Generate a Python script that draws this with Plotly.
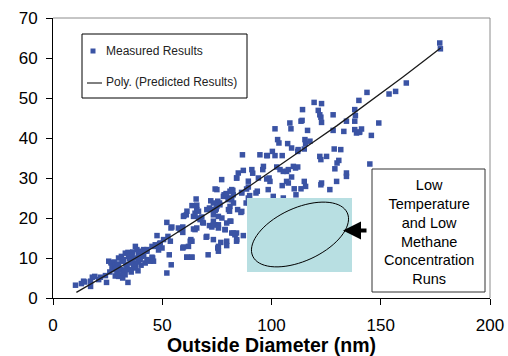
import numpy as np
import plotly.graph_objects as go

# Measured results (outside diameter nm, value)
meas_x = [10.3,13,14,14.5,17.2,17.2,18,19.1,20.9,21.7,24,24.5,
          25.5,26.5,27,27,28,28.5,28.5,28.5,29.3,29.5,30,30,30,30.8,31,31.3,31.6,31.9,32.3,32.3,33.1,33.4,33.9,34.3,34.3,34.6,34.6,35.4,35.4,36.2,36.2,36.9,37.7,37.7,38.4,38.4,38.9,39.2,39.9,39.9,40.7,41.5,41.5,42.2,42.2,43,43,43,44.5,45.3,45.3,45.6,46,46.8,47.6,47.6,48.3,48.8,49.1,49.9,50.6,
          32.8,35,36.5,37,39,40.3,33,35.8,29,26,
          52.1,52.6,53.7,54.4,54.1,52.1,53.2,54,57.4,58.2,59.4,59,59.4,60,61,61.2,63.5,59.4,59.7,62,62.8,63.1,63.6,59.7,61.3,63.6,64.3,65,65.8,65.8,66.6,64.3,65,65.8,66.6,67.3,68.1,68.5,68.8,65.5,70.1,70.4,71,
          70.4,71.6,72.2,72.7,73.4,74.2,74.7,75.4,76.2,73.4,74.2,75,75.7,76.4,74.2,75,73.4,74.2,75.7,75.7,75.7,75.4,76.8,77.2,77.3,78,78.3,79.2,79.5,80.3,81,81.8,82.3,82.5,81.8,82.6,80.2,81,80.3,80.8,79.5,78.7,81,81.4,82.5,83.3,84,84,79.5,79.5,84.1,71.6,72.7,73.4,73.4,75.7,78.8,81.8,83.3,61.3,63.6,
          84,84.8,84.1,86.3,86.4,88.6,89.4,89.4,89.8,84.5,86,86.4,87.1,88.4,89.4,90,86.7,87.1,91,91.4,92.9,93.5,94,94.7,96,96.3,97.8,98.1,98.5,98.9,99.3,97.8,100.4,100.8,101.6,101.6,102.4,102.8,103.4,103.9,104.9,104.9,105.4,105.4,106.9,106.9,107.4,107.7,107.7,108.4,108.9,109.2,109.2,110,110.4,111,111.2,112,112,112.2,113.5,113.5,114,114.2,115,115,115.3,115.6,115.6,116.5,117.6,119.5,121.4,122.1,122.6,122.9,122.9,122.1,122.6,122.6,122.9,125.2,126.7,128.2,128.2,128.7,129,129.8,130.8,131.7,133.1,134.3,134.3,134.3,138.1,138.4,138.1,138.1,138.9,140.1,141.2,140,140.4,143.7,145.7,145,149.1,153.8,156.8,161.7,177,177.3,130]
meas_y = [3.2,3.6,4.2,4.0,4.2,2.9,5.2,5.4,4.6,5.2,5.6,3.9,
          9.2,8.8,7.5,8.7,9,5.5,8.1,7.1,6.2,8.5,10,7.9,5.4,7.1,5.8,10.4,9.2,5,9.6,6.2,11.2,8.3,7.5,11.4,3.9,7.1,10.4,11.1,8.75,9.6,10.8,7.5,7.9,12.9,12.1,10,6.8,11.2,11.7,9.6,10.4,10.8,12.1,11.7,8.75,12.1,9.6,11.7,9.2,12.9,10.2,10,9.2,13.3,15.6,12.9,12,13.6,13.75,12.5,14.6,
          7.0,9.8,11.5,8.6,9.0,8.2,5.8,6.5,7.4,6.5,
          18.9,15.4,14.2,17.75,8.3,6.25,10.8,17.5,17.5,17.1,17.75,17.1,16.4,20.6,20.8,10.2,10.2,12.5,12.75,12.9,14.2,14.6,14.2,20.4,21.7,23.1,20.4,21.2,22.1,23.2,21.7,17.25,17.1,17.5,20,19.6,20.25,18.9,18.75,24.75,15.2,15.4,10.8,
          22.1,22.5,24.3,22.1,23.75,21.9,22.25,24.2,23.75,20.8,22.1,22.9,20.4,23.3,27.25,27.1,14.6,18.3,18.3,12.9,11.7,12.5,13.9,29.6,20,25.4,25.8,26.1,25.8,25,26.7,27.1,26.9,25.8,24.6,23.75,24.6,22.9,22.1,21.7,18.75,17.1,19.2,19.2,16.25,15.8,16.25,14.2,14.2,13.1,14.6,18.1,17.75,18.3,19.2,17.5,17.1,16.25,16,10.2,10.2,
          30,31.25,30,26.4,26.25,27.25,27.75,29.2,23.75,22.1,21.4,21.65,15.6,23.75,25,25.6,35.8,31.9,32.1,31.2,26.25,26.7,30,35.8,32.1,32.9,29.75,35.6,27.1,30,29.15,35.6,36.65,25.4,35.6,42.3,32.75,39.6,38.75,32.1,35.6,28.1,31.65,25,31.65,29.15,38.6,32.1,28.75,43.75,42.3,37.5,30.25,32.9,27.3,32.5,25.8,32.75,36.65,37.1,44.2,27.3,44.4,47.1,37.25,29.15,39.6,38.6,27.9,41.9,39.2,48.9,46.9,45.8,45.2,48.6,43.9,35.4,34.6,28.3,28.75,35.4,27.1,45.8,41.9,37.25,32.3,29.15,34.4,37.1,41.65,44.2,31.25,30.4,47.1,45.6,44.2,42.1,41.25,41.4,42.25,49.4,41.5,51.4,40.65,33.5,43.75,51,51.65,53.75,63.75,62.3,33.75]

# Poly. (Predicted Results) trend line
pred_x = [10.7,20,30,40,50,60,70,80,90,100,110,120,130,140,150,160,170,177.4]
pred_y = [1.4,4.3,7.5,10.7,14.0,17.4,20.9,24.4,28.0,31.7,35.4,39.3,43.1,47.1,51.1,55.2,59.4,62.5]

x_ticks = [0, 50, 100, 150, 200]
y_ticks = [0, 10, 20, 30, 40, 50, 60, 70]

FONT = "Liberation Sans, Arial, sans-serif"
L, T, W, H = 53, 18, 437, 280
X0, X1, Y0, Y1 = 0, 200, 0, 70

def px2data(px, py):
    return X0 + (px - L) / W * (X1 - X0), Y0 + (T + H - py) / H * (Y1 - Y0)

def px2paper(px, py):
    return (px - L) / W, (T + H - py) / H

fig = go.Figure()
fig.add_trace(go.Scatter(x=meas_x, y=meas_y, mode="markers", name="Measured Results",
                         marker=dict(symbol="square", size=5.5, color="#3A53A4", line=dict(width=0))))
fig.add_trace(go.Scatter(x=pred_x, y=pred_y, mode="lines", name="Poly. (Predicted Results)",
                         line=dict(color="#1a1a1a", width=1.3)))

shapes = []
# frame top/right (gray)
shapes.append(dict(type="line", xref="paper", yref="paper", x0=0, x1=1, y0=1, y1=1,
                   line=dict(color="#8c8c8c", width=1)))
shapes.append(dict(type="line", xref="paper", yref="paper", x0=1, x1=1, y0=0, y1=1,
                   line=dict(color="#8c8c8c", width=1)))
# light blue region
rx0, ry0 = px2data(247, 198)
rx1, ry1 = px2data(352, 272)
shapes.append(dict(type="rect", xref="x", yref="y", x0=rx0, x1=rx1, y0=ry1, y1=ry0,
                   fillcolor="#B8DFE2", line=dict(width=0), layer="above"))
# ellipse
cx, cy, a, b, ang = 300, 234.5, 52, 26.5, np.deg2rad(-24.6)
t = np.linspace(0, 2 * np.pi, 73)
ex = cx + a * np.cos(t) * np.cos(ang) - b * np.sin(t) * np.sin(ang)
ey = cy + a * np.cos(t) * np.sin(ang) + b * np.sin(t) * np.cos(ang)
pts = [px2data(u, v) for u, v in zip(ex, ey)]
path = "M " + " L ".join(f"{p[0]:.3f},{p[1]:.3f}" for p in pts) + " Z"
shapes.append(dict(type="path", xref="x", yref="y", path=path,
                   line=dict(color="black", width=1), layer="above"))
# text box
bx0, by0 = px2data(372, 169)
bx1, by1 = px2data(485, 292)
shapes.append(dict(type="rect", xref="x", yref="y", x0=bx0, x1=bx1, y0=by1, y1=by0,
                   fillcolor="white", line=dict(color="#333333", width=1), layer="above"))
# manual legend
lx0, ly0 = px2paper(82, 34)
lx1, ly1 = px2paper(247, 98)
shapes.append(dict(type="rect", xref="paper", yref="paper", x0=lx0, x1=lx1, y0=ly1, y1=ly0,
                   fillcolor="white", line=dict(color="black", width=1), layer="above"))
mx0, my0 = px2paper(90.5, 48.5)
mx1, my1 = px2paper(95.5, 53.5)
shapes.append(dict(type="rect", xref="paper", yref="paper", x0=mx0, x1=mx1, y0=my1, y1=my0,
                   fillcolor="#3A53A4", line=dict(width=0), layer="above"))
sx0, sy0 = px2paper(87, 83)
sx1, _ = px2paper(102, 83)
shapes.append(dict(type="line", xref="paper", yref="paper", x0=sx0, x1=sx1, y0=sy0, y1=sy0,
                   line=dict(color="black", width=1), layer="above"))

annotations = []
tx, ty = px2paper(104, 51)
annotations.append(dict(xref="paper", yref="paper", x=tx, y=ty, xanchor="left", yanchor="middle",
                        text="Measured Results", showarrow=False,
                        font=dict(family=FONT, size=12, color="#222")))
tx, ty = px2paper(104, 82)
annotations.append(dict(xref="paper", yref="paper", x=tx, y=ty, xanchor="left", yanchor="middle",
                        text="Poly. (Predicted Results)", showarrow=False,
                        font=dict(family=FONT, size=12, color="#222")))
cxx, cyy = px2data(428.5, 232)
annotations.append(dict(xref="x", yref="y", x=cxx, y=cyy, xanchor="center", yanchor="middle",
                        text="Low<br>Temperature<br>and Low<br>Methane<br>Concentration<br>Runs",
                        showarrow=False, align="center",
                        font=dict(family=FONT, size=14.5, color="black")))
ax_, ay_ = px2data(343, 230.5)
annotations.append(dict(xref="x", yref="y", x=ax_, y=ay_, text="", showarrow=True,
                        ax=25, ay=0, arrowhead=2, arrowwidth=4, arrowsize=0.9,
                        arrowcolor="black", standoff=0))

fig.update_layout(
    width=508, height=356,
    margin=dict(l=L, r=508 - L - W, t=T, b=356 - T - H),
    paper_bgcolor="white", plot_bgcolor="white",
    showlegend=False,
    shapes=shapes, annotations=annotations,
    font=dict(family=FONT, color="black"),
    xaxis=dict(range=[X0, X1], tickvals=x_ticks, ticks="outside", ticklen=6, tickcolor="black",
               showline=True, linecolor="black", linewidth=1, showgrid=False, zeroline=False,
               tickfont=dict(family=FONT, size=17, color="black"), ticklabelstandoff=6,
               title=dict(text="<b>Outside Diameter (nm)</b>", standoff=7,
                          font=dict(family=FONT, size=19.5, color="black")),
               automargin=False),
    yaxis=dict(range=[Y0, Y1], tickvals=y_ticks, ticks="outside", ticklen=6, tickcolor="black",
               showline=True, linecolor="black", linewidth=1, showgrid=False, zeroline=False,
               tickfont=dict(family=FONT, size=17, color="black"), ticklabelstandoff=5,
               automargin=False),
)

fig.write_html("out.html")
